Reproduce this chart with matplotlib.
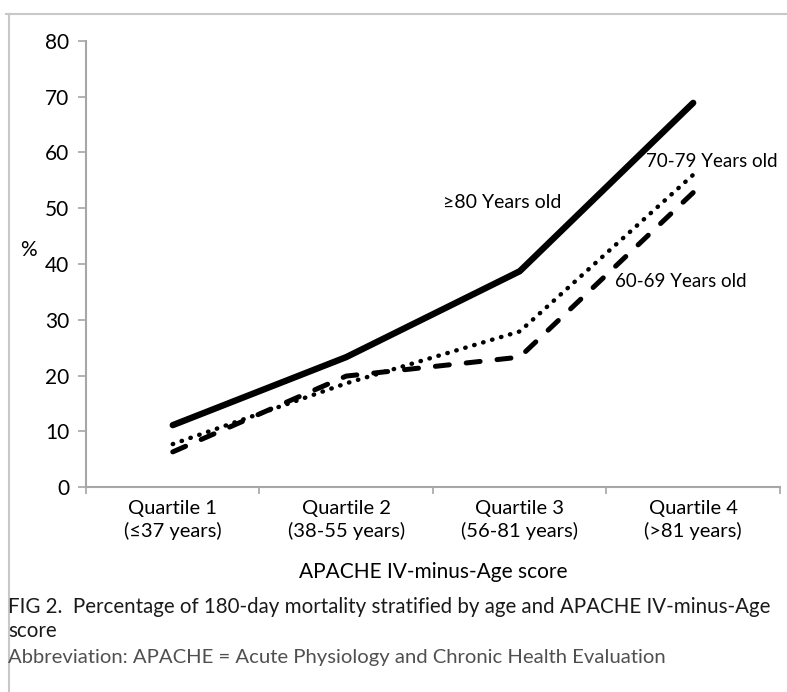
import numpy as np
import matplotlib.pyplot as plt
from matplotlib.lines import Line2D

plt.rcParams['font.family'] = ['Lato', 'DejaVu Sans']

quartiles = ['Quartile 1\n(≤37 years)', 'Quartile 2\n(38-55 years)',
             'Quartile 3\n(56-81 years)', 'Quartile 4\n(>81 years)']
age_80 = [11.1, 23.3, 38.7, 68.9]     # >=80 years old, solid
age_70 = [7.7, 18.6, 27.9, 56.0]      # 70-79 years old, dotted
age_60 = [6.3, 19.9, 23.3, 52.8]      # 60-69 years old, dashed
yticks = [0, 10, 20, 30, 40, 50, 60, 70, 80]

fig = plt.figure(figsize=(7.87, 6.92), dpi=100)
ax = fig.add_axes([0.1093, 0.2962, 0.8817, 0.6446])

x = np.arange(len(quartiles))
ax.plot(x, age_80, color='black', lw=4.6, solid_capstyle='round')
ax.plot(x, age_70, color='black', lw=3.2, linestyle=(0, (0.1, 2.0)), dash_capstyle='round')
ax.plot(x, age_60, color='black', lw=3.6, linestyle=(0, (2.8, 3.4)), dash_capstyle='round')

ax.set_xlim(-0.5, 3.5)
ax.set_ylim(0, 80)
ax.set_yticks(yticks)
ax.set_xticks(x)
ax.set_xticklabels(quartiles, fontsize=14.5, linespacing=1.35)
ax.set_xticks(np.arange(-0.5, 4.0, 1.0), minor=True)
ax.tick_params(axis='x', which='major', length=0, pad=9)
ax.tick_params(axis='x', which='minor', length=5, color='#a6a6a6', width=1.2)
ax.tick_params(axis='y', length=6, color='#a6a6a6', width=1.2, labelsize=15, pad=6)
for s in ['top', 'right']:
    ax.spines[s].set_visible(False)
for s in ['left', 'bottom']:
    ax.spines[s].set_color('#a6a6a6')
    ax.spines[s].set_linewidth(1.5)

ax.text(-0.5 - 0.33, 42.5, '%', fontsize=15, ha='center', va='center')

ax.text(1.9, 51, '≥80 Years old', fontsize=14, ha='center', va='center')
ax.text(2.73, 58.3, '70-79 Years old', fontsize=13.5, ha='left', va='center')
ax.text(2.55, 36.8, '60-69 Years old', fontsize=13.5, ha='left', va='center')

fig.text(433 / 787, 1 - 572 / 692, 'APACHE IV-minus-Age score', fontsize=15, ha='center', va='center')
fig.text(8 / 787, 1 - 607 / 692,
         'FIG 2.  Percentage of 180-day mortality stratified by age and APACHE IV-minus-Age',
         fontsize=14.8, ha='left', va='center', color='#1a1a1a')
fig.text(8 / 787, 1 - 631 / 692, 'score', fontsize=14.8, ha='left', va='center', color='#1a1a1a')
fig.text(8 / 787, 1 - 658 / 692,
         'Abbreviation: APACHE = Acute Physiology and Chronic Health Evaluation',
         fontsize=14.6, ha='left', va='center', color='#505050')

# light frame on top and left
fig.add_artist(Line2D([6 / 787, 1.0], [1 - 14 / 692, 1 - 14 / 692], color='#c8c8c8', lw=1.5))
fig.add_artist(Line2D([9 / 787, 9 / 787], [0.0, 1 - 14 / 692], color='#c8c8c8', lw=1.5))

fig.savefig('out.png', dpi=100)
